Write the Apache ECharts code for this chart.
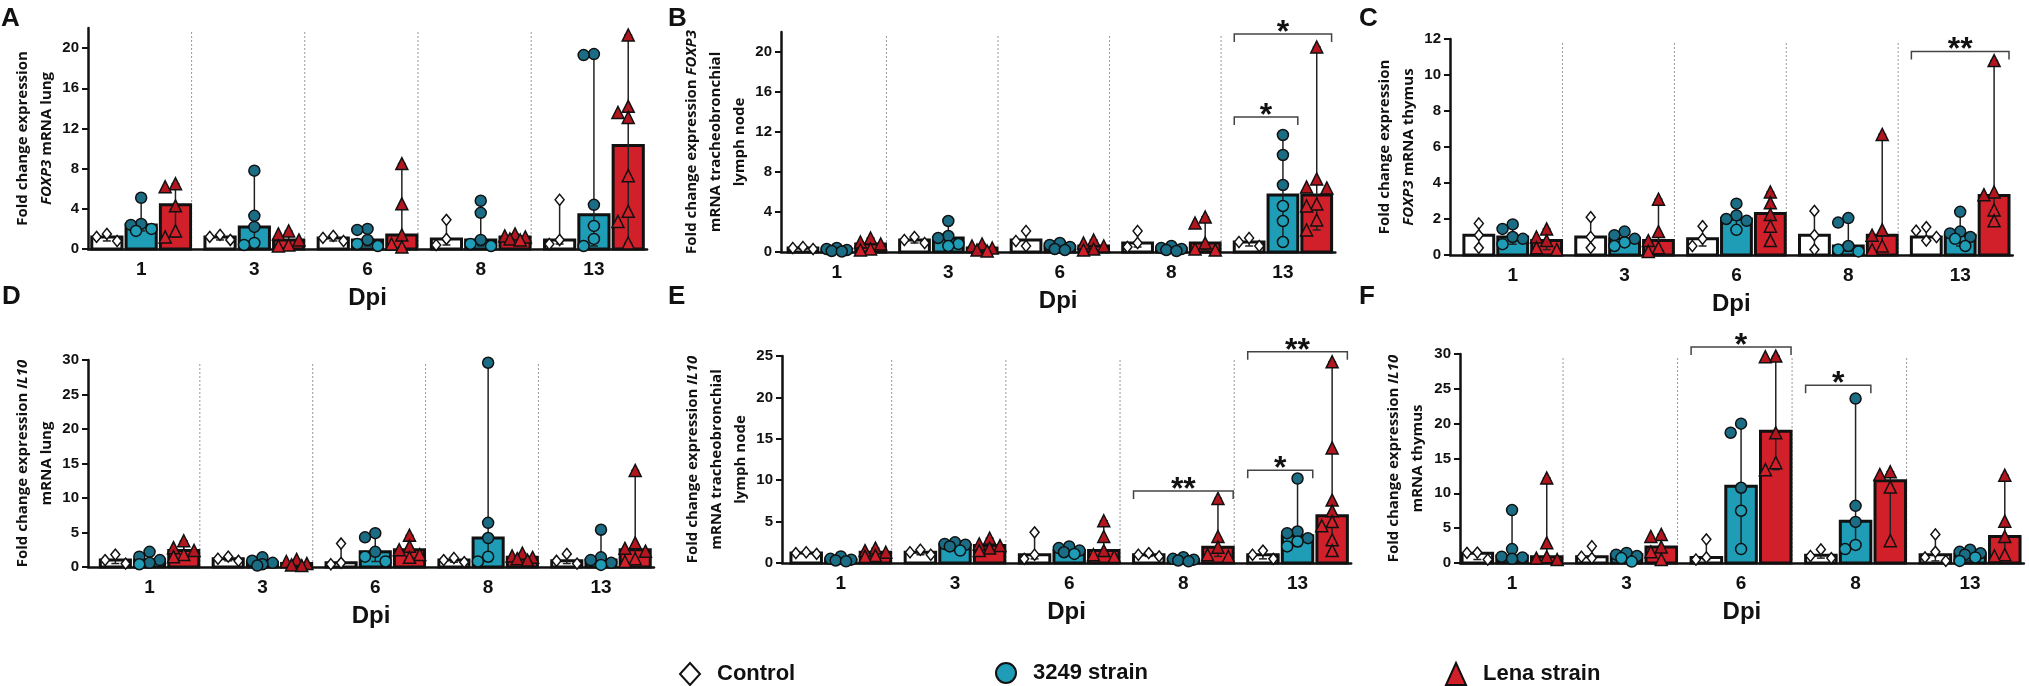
<!DOCTYPE html>
<html><head><meta charset="utf-8">
<script src="https://cdn.jsdelivr.net/npm/echarts@6/dist/echarts.min.js"></script>
<style>html,body{margin:0;padding:0;background:#fff}#c{width:2029px;height:686px}</style>
</head><body><div id="c"></div>
<script>
// ---------------- DATA ----------------
const dpiLabels = ['1', '3', '6', '8', '13'];
const seriesNames = ['Control', '3249 strain', 'Lena strain'];

// Panel A : FOXP3 lung
const A_bar_control = [1.2, 1.2, 1.1, 1.0, 0.9];
const A_bar_3249 = [2.4, 2.2, 0.9, 0.9, 3.4];
const A_bar_lena = [4.4, 0.9, 1.4, 1.2, 10.3];
const A_pts_control = [[1.5, 1.2, 0.8], [1.4, 1.2, 0.9], [1.3, 1.1, 0.8], [2.9, 1.0, 0.4], [4.9, 0.9, 0.5]];
const A_pts_3249 = [[5.1, 2.5, 2.4, 2.0, 1.8], [7.8, 3.3, 2.2, 0.6, 0.4], [2.0, 1.9, 0.9, 0.5, 0.3], [4.8, 3.6, 0.9, 0.5, 0.3], [19.4, 19.3, 4.4, 2.3, 1.0, 0.3]];
const A_pts_lena = [[6.5, 6.2, 4.3, 1.8, 1.2], [1.8, 1.5, 0.9, 0.4, 0.3], [8.5, 4.5, 1.4, 0.5, 0.2], [1.5, 1.3, 1.2, 1.0, 0.9], [21.3, 14.2, 13.6, 13.1, 7.3, 3.75, 2.75, 0.6]];
const A_yTicks = [0, 4, 8, 12, 16, 20];
const A_brackets = [];

// Panel B : FOXP3 tracheobronchial lymph node
const B_bar_control = [0.4, 1.2, 1.2, 0.9, 1.0];
const B_bar_3249 = [0.2, 1.4, 0.5, 0.3, 5.7];
const B_bar_lena = [0.8, 0.4, 0.6, 0.9, 5.7];
const B_pts_control = [[0.5, 0.4, 0.3], [1.5, 1.2, 0.9], [2.1, 1.1, 0.6], [2.1, 0.9, 0.5], [1.4, 1.0, 0.6]];
const B_pts_3249 = [[0.4, 0.3, 0.2, 0.1, 0.05], [3.1, 1.6, 1.4, 0.8, 0.6], [0.9, 0.7, 0.5, 0.3, 0.2], [0.6, 0.4, 0.3, 0.2, 0.1], [11.7, 9.7, 6.7, 4.6, 3.1, 1.0]];
const B_pts_lena = [[1.4, 1.0, 0.8, 0.3, 0.2], [0.8, 0.6, 0.4, 0.2, 0.1], [1.2, 0.9, 0.6, 0.3, 0.2], [3.5, 2.9, 0.9, 0.3, 0.2], [20.5, 7.3, 6.5, 6.4, 4.8, 4.6, 3.2, 2.2]];
const B_yTicks = [0, 4, 8, 12, 16, 20];
const B_brackets = [{ g: 4, to: 2, y: 21.8, t: '*' }, { g: 4, to: 1, y: 13.5, t: '*' }];

// Panel C : FOXP3 thymus
const C_bar_control = [1.1, 1.0, 0.9, 1.1, 1.0];
const C_bar_3249 = [1.0, 0.9, 2.0, 0.5, 1.1];
const C_bar_lena = [0.8, 0.8, 2.3, 1.1, 3.3];
const C_pts_control = [[1.75, 1.1, 0.4], [2.1, 1.0, 0.4], [1.6, 0.9, 0.5], [2.45, 1.1, 0.3], [1.55, 1.35, 1.0, 0.8]];
const C_pts_3249 = [[1.7, 1.45, 1.0, 0.9, 0.6], [1.3, 1.1, 0.9, 0.7, 0.5], [2.85, 2.2, 2.0, 1.9, 1.4], [2.05, 1.8, 0.5, 0.3, 0.2], [2.4, 1.3, 1.2, 1.0, 0.9, 0.5]];
const C_pts_lena = [[1.45, 1.0, 0.8, 0.4, 0.3], [3.1, 1.3, 0.8, 0.4, 0.2], [3.5, 2.9, 2.25, 1.6, 0.8], [6.7, 1.4, 1.1, 0.5, 0.3], [10.8, 3.5, 3.35, 2.5, 1.9]];
const C_yTicks = [0, 2, 4, 6, 8, 10, 12];
const C_brackets = [{ g: 4, to: 2, y: 11.3, t: '**' }];

// Panel D : IL10 lung
const D_bar_control = [1.0, 1.2, 0.6, 1.0, 0.9];
const D_bar_3249 = [1.0, 0.6, 2.2, 4.2, 1.0];
const D_bar_lena = [2.4, 0.5, 2.5, 1.4, 2.5];
const D_pts_control = [[1.8, 1.0, 0.5], [1.5, 1.2, 0.9], [3.4, 0.6, 0.4], [1.3, 1.0, 0.7], [1.9, 0.9, 0.5]];
const D_pts_3249 = [[2.2, 1.5, 1.0, 0.6, 0.4], [1.4, 0.9, 0.6, 0.4, 0.2], [4.9, 4.3, 2.2, 1.5, 0.8], [29.6, 6.4, 4.2, 1.5, 0.8], [5.4, 1.4, 1.0, 0.6, 0.3]];
const D_pts_lena = [[3.8, 2.8, 2.4, 1.8, 1.5], [1.1, 0.8, 0.5, 0.3, 0.2], [4.6, 3.0, 2.5, 1.8, 1.4], [2.0, 1.6, 1.4, 1.2, 1.0], [14.0, 3.5, 2.7, 2.3, 1.2, 0.8]];
const D_yTicks = [0, 5, 10, 15, 20, 25, 30];
const D_brackets = [];

// Panel E : IL10 tracheobronchial lymph node
const E_bar_control = [1.2, 1.3, 1.0, 1.0, 1.0];
const E_bar_3249 = [0.4, 2.2, 1.5, 0.4, 3.3];
const E_bar_lena = [1.3, 2.1, 1.5, 1.9, 5.7];
const E_pts_control = [[1.3, 1.2, 1.1], [1.6, 1.3, 1.0], [3.7, 1.0, 0.5], [1.2, 1.0, 0.8], [1.5, 1.0, 0.5]];
const E_pts_3249 = [[0.8, 0.5, 0.4, 0.3, 0.2], [2.5, 2.3, 2.2, 2.0, 1.5], [2.0, 1.8, 1.5, 1.3, 1.1], [0.7, 0.5, 0.4, 0.3, 0.2], [10.2, 3.8, 3.6, 3.0, 2.6, 2.0]];
const E_pts_lena = [[1.8, 1.5, 1.3, 0.9, 0.8], [3.0, 2.3, 2.1, 1.8, 1.5], [5.1, 3.2, 1.5, 1.0, 0.8], [7.8, 3.2, 1.9, 1.0, 0.8], [24.3, 13.9, 7.6, 6.3, 5.0, 4.5, 2.8, 1.5]];
const E_yTicks = [0, 5, 10, 15, 20, 25];
const E_brackets = [{ g: 3, to: 2, y: 8.7, t: '**' }, { g: 4, to: 1, y: 11.2, t: '*' }, { g: 4, to: 2, y: 25.5, t: '**' }];

// Panel F : IL10 thymus
const F_bar_control = [1.4, 0.9, 0.8, 1.1, 1.2];
const F_bar_3249 = [1.0, 1.2, 11.0, 6.0, 1.3];
const F_bar_lena = [0.9, 2.3, 18.9, 11.8, 3.8];
const F_pts_control = [[1.5, 1.45, 0.5], [2.4, 0.9, 0.7], [3.4, 0.8, 0.5], [1.95, 1.0, 0.7], [4.1, 1.6, 0.8, 0.3]];
const F_pts_3249 = [[7.6, 2.0, 0.9, 0.8, 0.6], [1.45, 1.2, 1.0, 0.7, 0.2], [20.0, 18.7, 10.8, 7.5, 2.0], [23.6, 8.2, 5.9, 2.6, 2.0], [1.9, 1.6, 1.4, 1.2, 0.8, 0.3]];
const F_pts_lena = [[12.2, 2.9, 0.9, 0.7, 0.5], [4.1, 3.8, 2.3, 1.6, 0.5], [29.7, 29.6, 18.7, 14.4, 13.4], [13.1, 12.7, 10.9, 3.2], [12.6, 6.0, 3.8, 1.2, 1.0]];
const F_yTicks = [0, 5, 10, 15, 20, 25, 30];
const F_brackets = [{ g: 2, to: 2, y: 31.0, t: '*' }, { g: 3, to: 1, y: 25.5, t: '*' }];

// ---------------- LAYOUT / STYLE ----------------
const PITCH = 3.3, BW = 0.88, XMAX = 16.25;
const barFill = ['#ffffff', '#1f9cb6', '#d1202a'];
const ptFill = ['#ffffff', '#1a6d84', '#b3161f'];
const symbols = ['diamond', 'circle', 'triangle'];
const symSize = [[9, 11], 11, 12];
const NUM_FONT = 'Liberation Sans, Arial, sans-serif';
const NAME_FONT = 'Open Sans, Liberation Sans, sans-serif';

const panels = [
  { id: 'A', left: 88, top: 28, h: 221, slot: 34.3, x0: 0.05, yMax: 22, yTicks: A_yTicks, nameGap: 27, lx: 1, ly: 6,
    name: 'Fold change expression\n{i|FOXP3} mRNA lung',
    bars: [A_bar_control, A_bar_3249, A_bar_lena], pts: [A_pts_control, A_pts_3249, A_pts_lena], br: A_brackets },
  { id: 'B', left: 781, top: 32, h: 220, slot: 33.8, x0: 0.15, yMax: 22, yTicks: B_yTicks, nameGap: 22, lx: 668, ly: 6,
    name: 'Fold change expression {i|FOXP3}\nmRNA tracheobronchial\nlymph node',
    bars: [B_bar_control, B_bar_3249, B_bar_lena], pts: [B_pts_control, B_pts_3249, B_pts_lena], br: B_brackets },
  { id: 'C', left: 1450, top: 39, h: 216, slot: 33.9, x0: 0.35, yMax: 12, yTicks: C_yTicks, nameGap: 22, lx: 1359, ly: 6,
    name: 'Fold change expression\n{i|FOXP3} mRNA thymus',
    bars: [C_bar_control, C_bar_3249, C_bar_lena], pts: [C_pts_control, C_pts_3249, C_pts_lena], br: C_brackets },
  { id: 'D', left: 88, top: 360, h: 207, slot: 34.2, x0: 0.3, yMax: 30, yTicks: D_yTicks, nameGap: 29, lx: 2, ly: 284,
    name: 'Fold change expression {i|IL10}\nmRNA lung',
    bars: [D_bar_control, D_bar_3249, D_bar_lena], pts: [D_pts_control, D_pts_3249, D_pts_lena], br: D_brackets },
  { id: 'E', left: 782, top: 356, h: 207, slot: 34.6, x0: 0.2, yMax: 25, yTicks: E_yTicks, nameGap: 22, lx: 668, ly: 284,
    name: 'Fold change expression {i|IL10}\nmRNA tracheobronchial\nlymph node',
    bars: [E_bar_control, E_bar_3249, E_bar_lena], pts: [E_pts_control, E_pts_3249, E_pts_lena], br: E_brackets },
  { id: 'F', left: 1460, top: 354, h: 209, slot: 34.7, x0: 0.0, yMax: 30, yTicks: F_yTicks, nameGap: 30, lx: 1359, ly: 284,
    name: 'Fold change expression {i|IL10}\nmRNA thymus',
    bars: [F_bar_control, F_bar_3249, F_bar_lena], pts: [F_pts_control, F_pts_3249, F_pts_lena], br: F_brackets }
];

const groupCenters = dpiLabels.map((_, g) => g * PITCH + 1.5);
const barX = (g, s) => g * PITCH + s + 0.5;

function swarm(vals, pxU, slotPx) {
  const order = vals.map((v, i) => i).sort((a, b) => vals[b] - vals[a]);
  const cands = [0, -0.3, 0.3, -0.15, 0.15];
  const offs = new Array(vals.length).fill(0);
  const placed = [];
  for (const i of order) {
    let best = 0, bestD = -1;
    for (const c of cands) {
      let d = Infinity;
      for (const q of placed) d = Math.min(d, Math.hypot((c - q.o) * slotPx, (vals[i] - q.v) * pxU));
      if (d >= 10.5) { best = c; bestD = d; break; }
      if (d > bestD) { bestD = d; best = c; }
    }
    offs[i] = best; placed.push({ o: best, v: vals[i] });
  }
  return offs;
}

const grid = [], xAxis = [], yAxis = [], series = [], graphic = [];

panels.forEach((p, pi) => {
  const w = p.slot * (XMAX + p.x0);
  grid.push({ left: p.left, top: p.top, width: w, height: p.h, containLabel: false });
  xAxis.push({
    type: 'value', gridIndex: pi, min: -p.x0, max: XMAX,
    axisLine: { show: true, onZero: false, lineStyle: { color: '#111', width: 2.5 } },
    axisTick: { show: false }, splitLine: { show: false },
    axisLabel: {
      customValues: groupCenters, margin: 11, color: '#111',
      fontFamily: NUM_FONT, fontWeight: 'bold', fontSize: 19,
      formatter: v => { const i = groupCenters.findIndex(c => Math.abs(c - v) < 1e-6); return i >= 0 ? dpiLabels[i] : ''; }
    },
    name: 'Dpi', nameLocation: 'middle', nameGap: 37,
    nameTextStyle: { fontFamily: NUM_FONT, fontWeight: 'bold', fontSize: 24, color: '#111' }
  });
  yAxis.push({
    type: 'value', gridIndex: pi, min: 0, max: p.yMax,
    axisLine: { show: true, onZero: false, lineStyle: { color: '#111', width: 2.5 } },
    axisTick: { show: true, length: 6, customValues: p.yTicks, lineStyle: { color: '#111', width: 2 } },
    splitLine: { show: false },
    axisLabel: { customValues: p.yTicks, margin: 9, color: '#111', fontFamily: NUM_FONT, fontWeight: 'bold', fontSize: 15 },
    name: p.name, nameLocation: 'middle', nameRotate: 90, nameGap: p.nameGap,
    nameTextStyle: {
      fontFamily: NAME_FONT, fontWeight: 'bold', fontSize: 15, lineHeight: 24, color: '#111', align: 'center',
      rich: { i: { fontFamily: NAME_FONT, fontWeight: 'bold', fontStyle: 'italic', fontSize: 15, lineHeight: 24, color: '#111' } }
    }
  });

  const slotPx = p.slot, pxU = p.h / p.yMax;

  // dotted separators between day groups
  series.push({
    type: 'custom', xAxisIndex: pi, yAxisIndex: pi, z: 1, silent: true,
    data: [0, 1, 2, 3].map(g => [g * PITCH + 2.97, 0]),
    encode: { x: 0, y: 1 },
    renderItem: (params, api) => {
      const a = api.coord([api.value(0), p.yMax]), b = api.coord([api.value(0), 0]);
      return { type: 'line', shape: { x1: a[0], y1: a[1] + 4, x2: b[0], y2: b[1] },
        style: { stroke: '#9a9a9a', lineWidth: 1, lineDash: [2, 2] } };
    }
  });

  // bars (median)
  const barData = [];
  p.bars.forEach((arr, s) => arr.forEach((v, g) => barData.push([barX(g, s), v, s])));
  series.push({
    type: 'custom', xAxisIndex: pi, yAxisIndex: pi, z: 2, silent: true,
    data: barData, encode: { x: 0, y: 1 },
    renderItem: (params, api) => {
      const x = api.value(0), v = api.value(1), s = api.value(2);
      const a = api.coord([x - BW / 2, v]), b = api.coord([x + BW / 2, 0]);
      return { type: 'rect', shape: { x: a[0], y: a[1], width: b[0] - a[0], height: b[1] - a[1] },
        style: { fill: barFill[s], stroke: '#111', lineWidth: 3 } };
    }
  });

  // range lines
  const rngData = [];
  p.pts.forEach((arr, s) => arr.forEach((vals, g) => rngData.push([barX(g, s), Math.min(...vals), Math.max(...vals)])));
  series.push({
    type: 'custom', xAxisIndex: pi, yAxisIndex: pi, z: 3, silent: true,
    data: rngData, encode: { x: 0, y: [1, 2] },
    renderItem: (params, api) => {
      const x = api.value(0);
      const lo = api.coord([x, api.value(1)]), hi = api.coord([x, api.value(2)]);
      const st = { stroke: '#222', lineWidth: 1.5 };
      return { type: 'group', children: [
        { type: 'line', shape: { x1: lo[0], y1: lo[1], x2: hi[0], y2: hi[1] }, style: st },
        { type: 'line', shape: { x1: hi[0] - 4, y1: hi[1], x2: hi[0] + 4, y2: hi[1] }, style: st },
        { type: 'line', shape: { x1: lo[0] - 4, y1: lo[1], x2: lo[0] + 4, y2: lo[1] }, style: st }
      ] };
    }
  });

  // individual points
  p.pts.forEach((arr, s) => {
    const data = [];
    arr.forEach((vals, g) => {
      const offs = swarm(vals, pxU, slotPx);
      const barTop = p.bars[s][g];
      vals.forEach((v, i) => data.push({
        value: [barX(g, s) + offs[i], v],
        itemStyle: { color: (v < barTop - 3 / pxU) ? barFill[s] : ptFill[s] }
      }));
    });
    series.push({
      type: 'scatter', name: seriesNames[s], xAxisIndex: pi, yAxisIndex: pi, z: 4, silent: true,
      symbol: symbols[s], symbolSize: symSize[s], data,
      itemStyle: { borderColor: '#111', borderWidth: 1.5, opacity: 1 }
    });
  });

  // significance brackets
  if (p.br.length) {
    series.push({
      type: 'custom', xAxisIndex: pi, yAxisIndex: pi, z: 5, silent: true, clip: false,
      data: p.br.map(b => [b.g * PITCH, b.y]), encode: { x: 0, y: 1 },
      renderItem: (params, api) => {
        const b = p.br[params.dataIndex];
        const p1 = api.coord([b.g * PITCH + 0.06, b.y]), p2 = api.coord([b.g * PITCH + b.to + 0.94, b.y]);
        return { type: 'group', children: [
          { type: 'polyline', shape: { points: [[p1[0], p1[1] + 8], [p1[0], p1[1]], [p2[0], p2[1]], [p2[0], p2[1] + 8]] },
            style: { stroke: '#444', lineWidth: 1.5, fill: null } },
          { type: 'text', style: { text: b.t, x: (p1[0] + p2[0]) / 2, y: p1[1] - 1, textAlign: 'center', textVerticalAlign: 'middle',
            font: 'bold 32px ' + NUM_FONT, fill: '#111' } }
        ] };
      }
    });
  }

  graphic.push({ type: 'text', left: p.lx, top: p.ly, style: { text: p.id, font: 'bold 26px ' + NUM_FONT, fill: '#111' } });
});

const legTxt = { fontFamily: NUM_FONT, fontWeight: 'bold', fontSize: 22, color: '#111', padding: [0, 0, 0, 12] };
const legend = [
  { left: 679, top: 662, data: [{ name: 'Control', icon: 'diamond', itemStyle: { color: '#fff', borderColor: '#111', borderWidth: 2 } }] },
  { left: 995, top: 662, data: [{ name: '3249 strain', icon: 'circle', itemStyle: { color: '#1f9cb6', borderColor: '#111', borderWidth: 2 } }] },
  { left: 1445, top: 662, data: [{ name: 'Lena strain', icon: 'triangle', itemStyle: { color: '#d1202a', borderColor: '#111', borderWidth: 2 } }] }
].map(l => Object.assign(l, { selectedMode: false, itemWidth: 20, itemHeight: 22, textStyle: legTxt, padding: 0 }));

const chart = echarts.init(document.getElementById('c'), null, { renderer: 'canvas', width: 2029, height: 686 });
chart.setOption({ animation: false, backgroundColor: '#fff', grid, xAxis, yAxis, series, legend, graphic });
</script></body></html>
